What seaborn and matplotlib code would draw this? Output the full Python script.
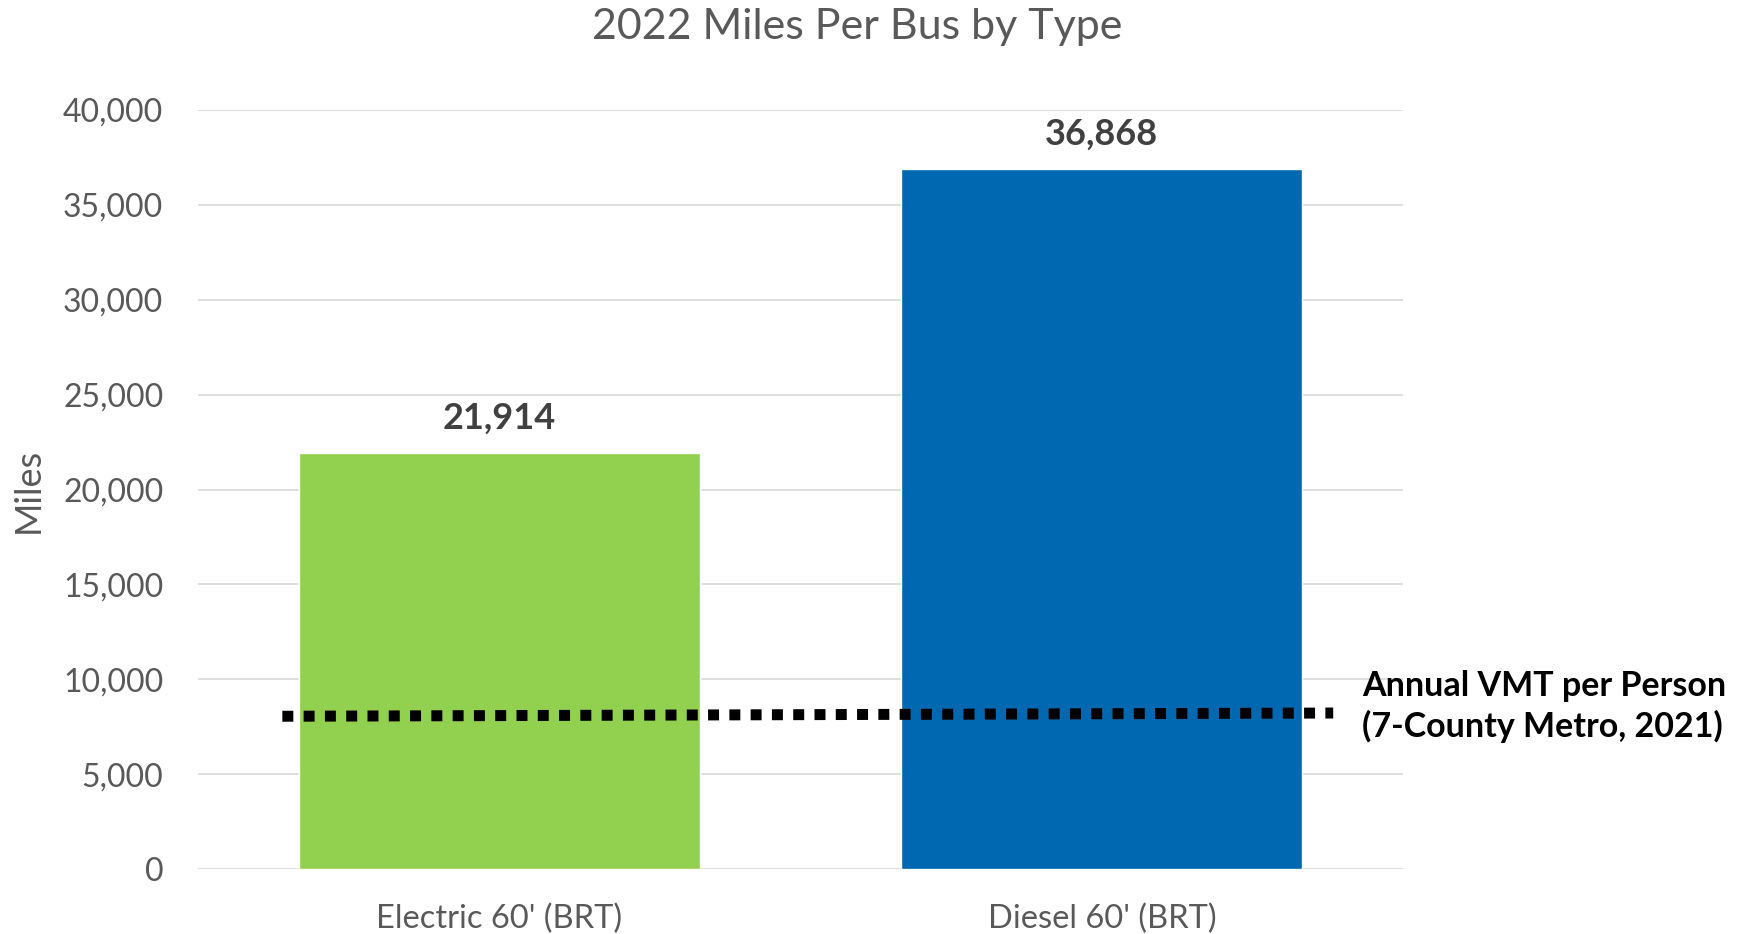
import seaborn as sns
import pandas as pd
import matplotlib.pyplot as plt

# Bus types and their 2022 miles per bus
bus_types = ["Electric 60' (BRT)", "Diesel 60' (BRT)"]
miles_per_bus = [21914, 36868]
bar_colors = ["#92D050", "#0068B0"]

# Annual VMT per person reference line (left and right end values)
vmt_per_person = [8050, 8220]
vmt_label = "Annual VMT per Person\n(7-County Metro, 2021)"

y_ticks = [0, 5000, 10000, 15000, 20000, 25000, 30000, 35000, 40000]

sns.set_theme(style="white")
plt.rcParams["font.family"] = ["Lato", "DejaVu Sans"]

df = pd.DataFrame({"type": bus_types, "miles": miles_per_bus})

fig = plt.figure(figsize=(17.46, 9.34), dpi=100)
ax = fig.add_axes([0.1134, 0.0696, 0.6902, 0.8126])

sns.barplot(data=df, x="type", y="miles", hue="type", palette=bar_colors,
            width=0.666, saturation=1, legend=False, ax=ax, zorder=2)

ax.set_ylim(0, 40000)
ax.set_xlim(-0.5, 1.5)
ax.set_yticks(y_ticks)
ax.set_yticklabels([f"{v:,}" for v in y_ticks])
ax.grid(axis="y", color="#D9D9D9", linewidth=1.2, zorder=0)
ax.set_axisbelow(True)
for s in ax.spines.values():
    s.set_visible(False)
ax.tick_params(axis="y", length=0, pad=25, labelsize=23, labelcolor="#595959")
ax.tick_params(axis="x", length=0, pad=25, labelsize=23.5, labelcolor="#595959")
ax.set_xlabel("")
ax.set_ylabel("")

# value labels above bars
for i, v in enumerate(miles_per_bus):
    ax.annotate(f"{v:,}", (i, v), xytext=(0, 25), textcoords="offset points",
                ha="center", va="center", fontsize=26, fontweight="bold", color="#404040")

# dotted reference line
trans = ax.get_yaxis_transform()
line, = ax.plot([0.07, 0.942], vmt_per_person, transform=trans, color="black",
                linewidth=7.9, solid_capstyle="butt", dash_capstyle="butt", zorder=3)
line.set_dashes([1.0, 0.94])

ax.text(0.966, 8560, vmt_label, transform=trans, ha="left", va="center",
        fontsize=24.5, fontweight="bold", color="black", linespacing=1.3)

fig.text(857 / 1746, 1 - 27 / 934, "2022 Miles Per Bus by Type", ha="center", va="center",
         fontsize=31, color="#595959")
fig.text(28 / 1746, 1 - 490 / 934, "Miles", rotation=90, ha="center", va="center",
         fontsize=26, color="#595959")

fig.savefig("out.png", dpi=100)
